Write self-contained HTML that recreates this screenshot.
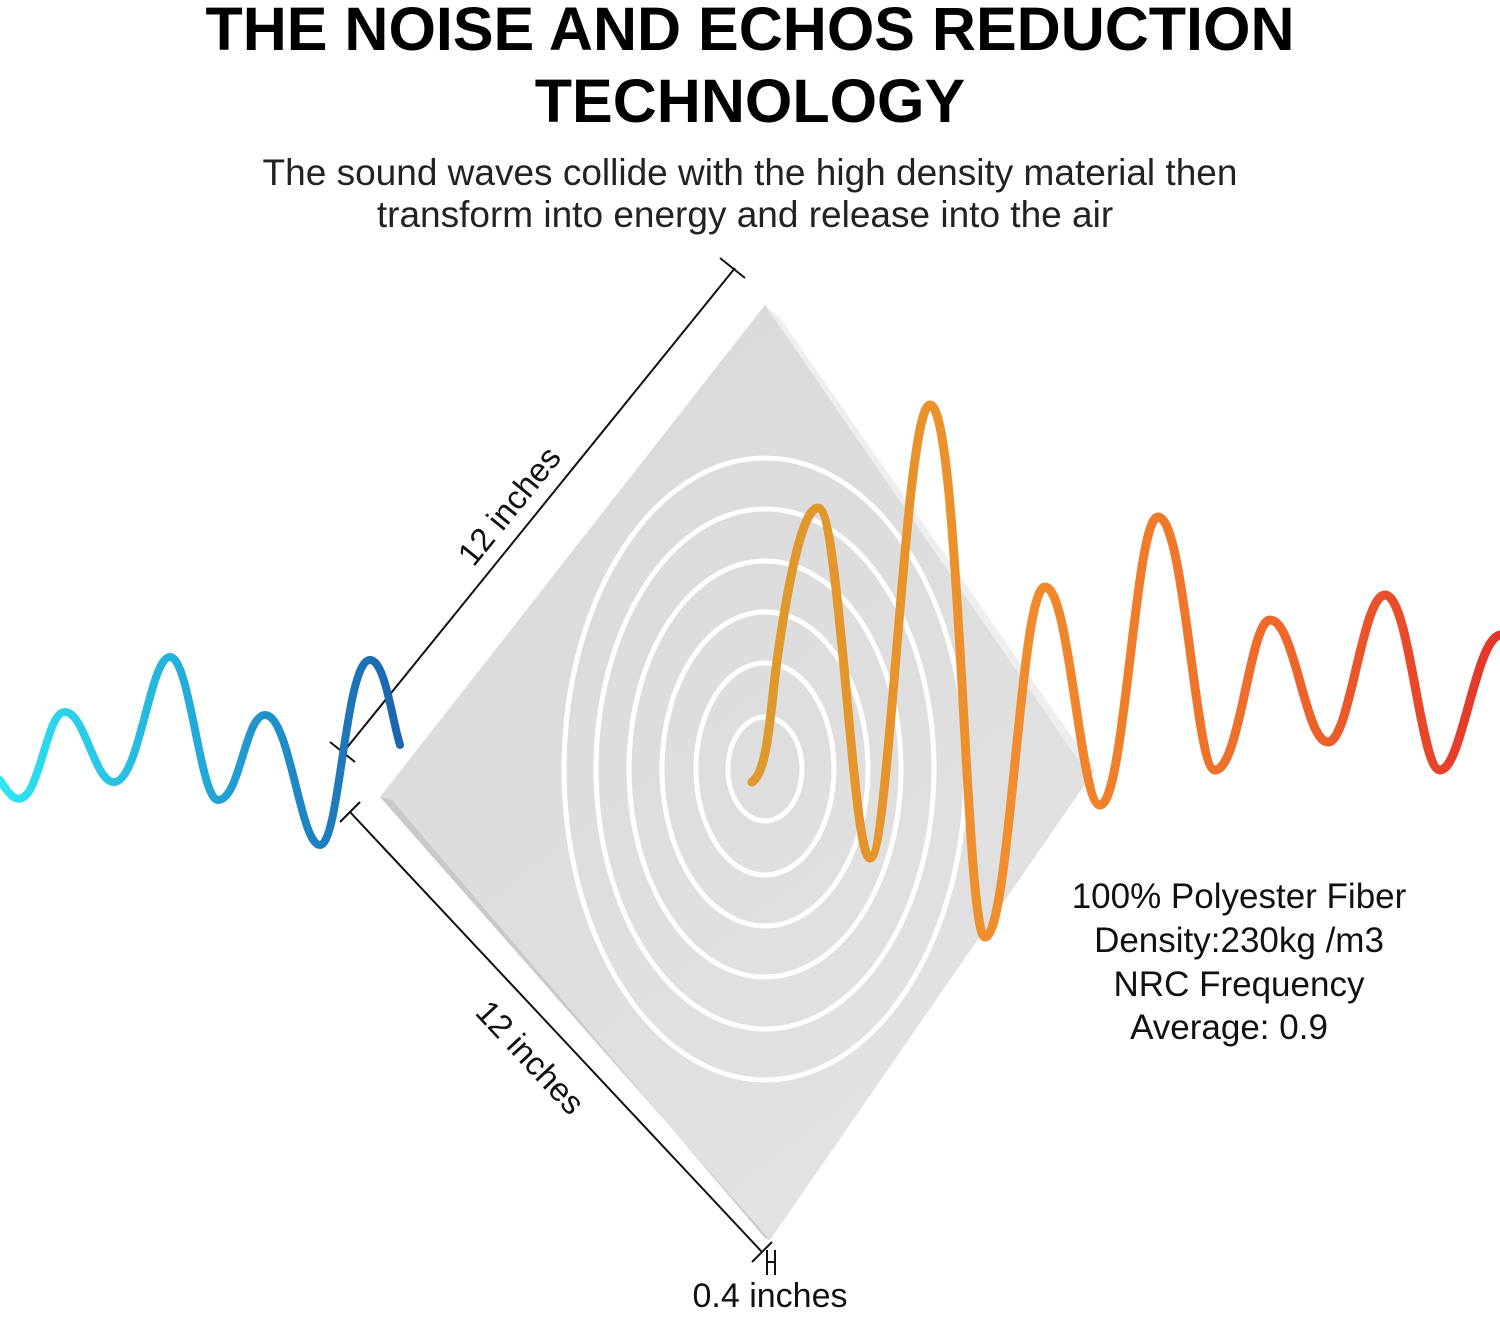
<!DOCTYPE html>
<html><head><style>
body{margin:0;background:#fff;width:1500px;height:1313px;overflow:hidden;font-family:"Liberation Sans",sans-serif}
</style></head><body>
<svg width="1500" height="1313" viewBox="0 0 1500 1313" xmlns="http://www.w3.org/2000/svg">
<defs>
<linearGradient id="bl" x1="0" x2="400" y1="0" y2="0" gradientUnits="userSpaceOnUse"><stop offset="0" stop-color="#2fe6f2"/><stop offset="0.5" stop-color="#22a9d8"/><stop offset="1" stop-color="#1c64ad"/></linearGradient>
<linearGradient id="or" x1="750" x2="1500" y1="0" y2="0" gradientUnits="userSpaceOnUse"><stop offset="0" stop-color="#dc9a2c"/><stop offset="0.35" stop-color="#f08d2c"/><stop offset="0.7" stop-color="#ee6a2a"/><stop offset="1" stop-color="#e3342a"/></linearGradient>
<linearGradient id="pn" x1="380" y1="300" x2="1100" y2="1240" gradientUnits="userSpaceOnUse"><stop offset="0" stop-color="#d8d8d9"/><stop offset="1" stop-color="#e4e4e5"/></linearGradient>
</defs>
<text x="750" y="50" text-anchor="middle" font-size="61" font-weight="bold" fill="#000">THE NOISE AND ECHOS REDUCTION</text>
<text x="750" y="122" text-anchor="middle" font-size="61" font-weight="bold" fill="#000">TECHNOLOGY</text>
<text x="750" y="185" text-anchor="middle" font-size="37" fill="#222">The sound waves collide with the high density material then</text>
<text x="745" y="227" text-anchor="middle" font-size="37" fill="#222">transform into energy and release into the air</text>
<polygon points="765,305 1095,770 770,1240 380,797" fill="url(#pn)"/>
<polygon points="380,797 770,1240 765,1238 392,800" fill="#c9c9ca"/>
<polygon points="765,305 780,318 1095,770 1085,770" fill="#eeeeee"/>
<g fill="none" stroke="#fff" stroke-width="5">
<ellipse cx="765" cy="769" rx="37" ry="52"/>
<ellipse cx="765" cy="769" rx="69" ry="106"/>
<ellipse cx="765" cy="769" rx="103" ry="157"/>
<ellipse cx="765" cy="769" rx="136" ry="208"/>
<ellipse cx="765" cy="769" rx="169" ry="260"/>
<ellipse cx="765" cy="769" rx="201" ry="311"/>
</g>
<g stroke="#111" stroke-width="2" fill="none">
<line x1="345" y1="750" x2="735" y2="268"/><line x1="720" y1="258" x2="745" y2="278"/><line x1="330" y1="742" x2="355" y2="762"/>
<line x1="350" y1="812" x2="762" y2="1252"/><line x1="340" y1="822" x2="360" y2="802"/><line x1="752" y1="1262" x2="772" y2="1242"/>
<line x1="767" y1="1250" x2="767" y2="1275"/><line x1="775" y1="1250" x2="775" y2="1275"/><line x1="767" y1="1262" x2="775" y2="1262"/>
</g>
<text transform="translate(518,513) rotate(-51)" text-anchor="middle" font-size="33" fill="#111">12 inches</text>
<text transform="translate(522,1065) rotate(47)" text-anchor="middle" font-size="33" fill="#111">12 inches</text>
<text x="770" y="1307" text-anchor="middle" font-size="34" fill="#111">0.4 inches</text>
<path d="M0,780 C12,800 20,805 30,790 C45,760 50,712 65,712 C85,712 95,785 115,782 C140,778 150,657 170,657 C190,657 200,800 218,800 C240,800 245,715 265,715 C290,715 300,845 320,845 C340,845 345,660 370,660 C385,660 392,720 400,745" fill="none" stroke="url(#bl)" stroke-width="8" stroke-linecap="round"/>
<path d="M752,782 C770,770 770,700 780,640 C792,560 805,508 818,508 C840,508 852,858 870,858 C890,858 905,405 930,405 C960,405 965,937 985,937 C1010,937 1020,587 1045,587 C1070,587 1080,805 1100,805 C1125,805 1135,517 1158,517 C1185,517 1195,770 1215,770 C1240,770 1250,620 1270,620 C1295,620 1305,742 1328,742 C1350,742 1362,595 1385,595 C1410,595 1420,770 1440,770 C1462,770 1475,640 1500,635" fill="none" stroke="url(#or)" stroke-width="9" stroke-linecap="round"/>
<g font-size="35" fill="#111" text-anchor="middle">
<text x="1239" y="908">100% Polyester Fiber</text>
<text x="1239" y="952">Density:230kg /m3</text>
<text x="1239" y="996">NRC Frequency</text>
<text x="1229" y="1039">Average: 0.9</text>
</g>
</svg>
</body></html>
